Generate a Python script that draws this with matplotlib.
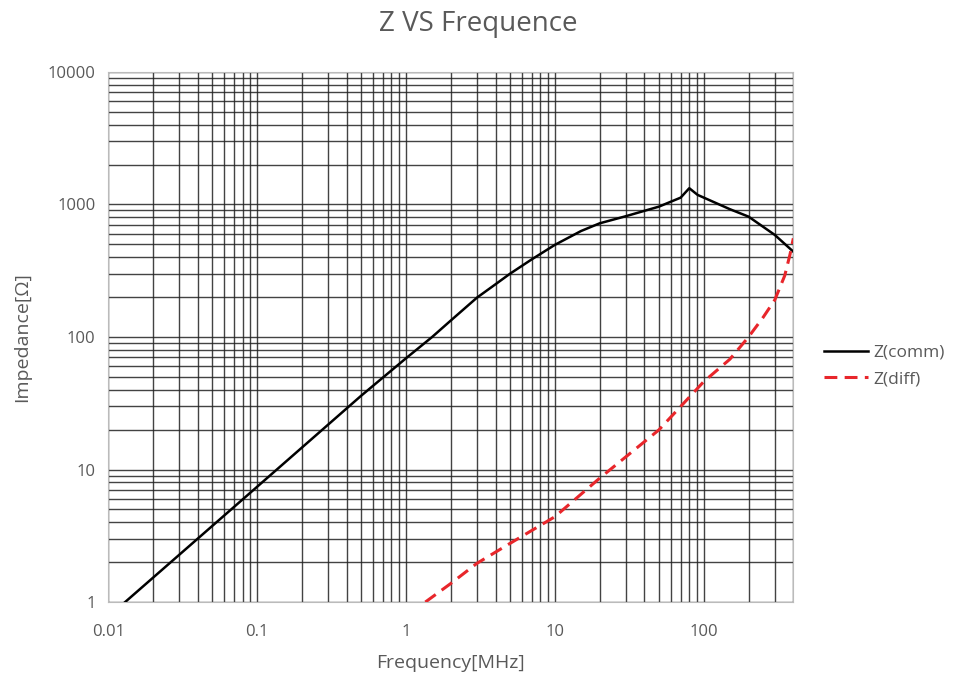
import numpy as np
import matplotlib
matplotlib.use('Agg')
import matplotlib.pyplot as plt
from matplotlib.ticker import FixedLocator, LogLocator, NullFormatter

plt.rcParams['font.family'] = ['Open Sans', 'DejaVu Sans']

# Z(comm) - common mode impedance
f_comm = [0.013, 0.1, 0.5, 1, 1.5, 2, 3, 4, 5, 7, 10, 15, 20, 30, 50, 70, 80, 91, 150, 200, 300, 400]
z_comm = [1.0, 7.4, 36, 69, 100, 133, 198, 250, 300, 385, 495, 630, 720, 815, 962, 1125, 1325, 1180,
          920, 809, 589, 440]

# Z(diff) - differential mode impedance
f_diff = [1.35, 2, 3, 5, 10, 20, 50, 100, 150, 200, 250, 300, 350, 380, 400]
z_diff = [1.0, 1.38, 1.96, 2.77, 4.4, 8.6, 19.9, 46, 68, 100, 140, 190, 290, 420, 555]

x_ticks = [0.01, 0.1, 1, 10, 100]
x_labels = ['0.01', '0.1', '1', '10', '100']
y_ticks = [1, 10, 100, 1000, 10000]
y_labels = ['1', '10', '100', '1000', '10000']

grey = '#595959'

fig = plt.figure(figsize=(9.57, 6.78), dpi=100)
ax = fig.add_axes([0.113, 0.112, 0.716, 0.782])

ax.plot(f_comm, z_comm, color='black', lw=1.8, label='Z(comm)', zorder=3)
ax.plot(f_diff, z_diff, color='#e8262b', lw=2.2, dashes=(4.2, 2.4), label='Z(diff)', zorder=3)

ax.set_xscale('log')
ax.set_yscale('log')
ax.set_xlim(0.01, 400)
ax.set_ylim(1, 10000)

ax.xaxis.set_major_locator(FixedLocator(x_ticks))
ax.set_xticklabels(x_labels)
ax.yaxis.set_major_locator(FixedLocator(y_ticks))
ax.set_yticklabels(y_labels)
ax.xaxis.set_minor_locator(LogLocator(base=10, subs=np.arange(2, 10), numticks=20))
ax.yaxis.set_minor_locator(LogLocator(base=10, subs=np.arange(2, 10), numticks=20))
ax.xaxis.set_minor_formatter(NullFormatter())
ax.yaxis.set_minor_formatter(NullFormatter())

ax.grid(True, which='both', color='#222222', lw=1.0, alpha=0.85)
ax.tick_params(which='both', length=0, labelsize=12, labelcolor=grey)
ax.tick_params(axis='x', pad=16)
ax.tick_params(axis='y', pad=9)
for s in ax.spines.values():
    s.set_color('#bbbbbb')
    s.set_linewidth(0.8)

ax.set_xlabel('Frequency[MHz]', fontsize=14, color=grey, labelpad=10)
ax.set_ylabel('Impedance[Ω]', fontsize=14, color=grey, labelpad=12)
fig.suptitle('Z VS Frequence', fontsize=20, color=grey, x=0.5, y=0.985)

fig.legend(loc='center left', bbox_to_anchor=(0.845, 0.46), frameon=False,
           fontsize=12.5, labelcolor=grey, handlelength=2.5, handletextpad=0.35,
           labelspacing=0.6)

fig.savefig('out.png', dpi=100)
